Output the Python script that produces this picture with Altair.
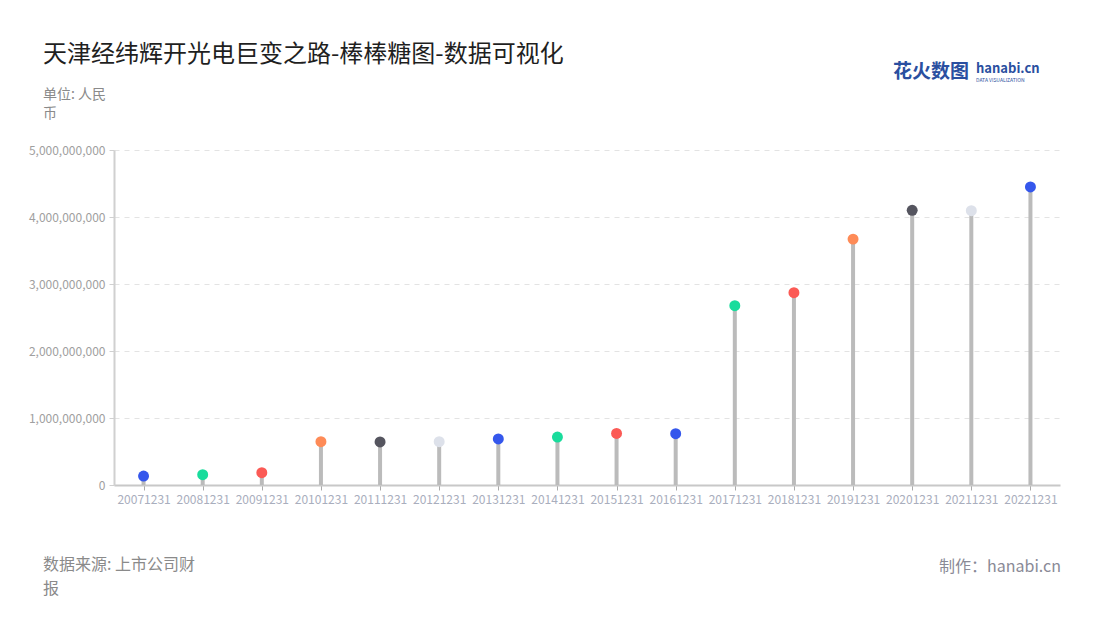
import altair as alt
import pandas as pd

FONT = "Noto Sans CJK SC"

dates = ["20071231", "20081231", "20091231", "20101231", "20111231", "20121231",
         "20131231", "20141231", "20151231", "20161231", "20171231", "20181231",
         "20191231", "20201231", "20211231", "20221231"]
values = [133e6, 154e6, 184e6, 646e6, 642e6, 646e6,
          687e6, 716e6, 770e6, 766e6, 2676e6, 2870e6,
          3670e6, 4100e6, 4094e6, 4448e6]
dot_colors = ["#3557ec", "#19dc9c", "#fb5a55", "#fe8b57", "#55555f", "#dde1ea",
              "#3557ec", "#19dc9c", "#fb5a55", "#3557ec", "#19dc9c", "#fb5a55",
              "#fe8b57", "#55555f", "#dde1ea", "#3557ec"]
y_ticks = [0, 1e9, 2e9, 3e9, 4e9, 5e9]

title_text = "天津经纬辉开光电巨变之路-棒棒糖图-数据可视化"
unit_lines = ["单位: 人民", "币"]
source_lines = ["数据来源: 上市公司财", "报"]
maker_text = "制作：hanabi.cn"

df = pd.DataFrame({"date": dates, "value": values, "color": dot_colors})

W, H = 946, 335

x_enc = alt.X("date:N", sort=dates, title=None,
              scale=alt.Scale(type="point", padding=0.5),
              axis=alt.Axis(labelAngle=0, labelColor="#a9aebd", labelFontSize=12,
                            labelFont=FONT, domainColor="#c8c8c8", domainWidth=2,
                            tickColor="#aaaaaa", tickSize=5, labelPadding=4,
                            grid=False, labelOverlap=False))
y_enc = alt.Y("value:Q", title=None,
              scale=alt.Scale(domain=[0, 5e9], nice=False),
              axis=alt.Axis(values=y_ticks, format=",.0f",
                            labelColor="#a0a0a0", labelFontSize=12, labelFont=FONT,
                            domainColor="#d0d0d0", domainWidth=2,
                            tickColor="#d0d0d0", tickSize=5, labelPadding=4,
                            grid=True, gridColor="#e3e3e3", gridDash=[5, 5],
                            gridWidth=1))

base = alt.Chart(df)

stems = base.mark_rule(color="#bbbbbb", strokeWidth=4).encode(
    x=x_enc, y=y_enc, y2=alt.datum(0))

dots = base.mark_circle(size=120, opacity=1).encode(
    x=x_enc, y=y_enc,
    color=alt.Color("color:N", scale=None))

def text_layer(txt, x, y, size, color, align="left", weight="normal"):
    d = pd.DataFrame({"t": [txt]})
    return alt.Chart(d).mark_text(
        align=align, baseline="middle", fontSize=size, color=color,
        font=FONT, fontWeight=weight).encode(
        text="t:N", x=alt.value(x), y=alt.value(y))

texts = [
    text_layer(title_text, -71, -95, 24, "#1f1f1f"),
    text_layer(unit_lines[0], -71, -55, 14, "#8a8a8a"),
    text_layer(unit_lines[1], -71, -36, 14, "#8a8a8a"),
    text_layer(source_lines[0], -71, 415, 16, "#8a8a8a"),
    text_layer(source_lines[1], -71, 439, 16, "#8a8a8a"),
    text_layer(maker_text, 947, 417, 16, "#8a8a96", align="right"),
    text_layer("花火数图", 779, -78, 19, "#2a4fa0", weight="bold"),
    text_layer("hanabi.cn", 862, -81, 13, "#2a4fa0", weight="bold"),
    text_layer("DATA VISUALIZATION", 862, -70, 5, "#2a4fa0"),
]

chart = alt.layer(stems, dots, *texts).properties(
    width=W, height=H,
    autosize=alt.AutoSizeParams(type="none"),
    padding={"left": 106, "top": 142, "right": 32, "bottom": 127},
    background="white",
).configure_view(stroke=None)

chart.save("out.html", embed_options={"renderer": "svg", "actions": False})
